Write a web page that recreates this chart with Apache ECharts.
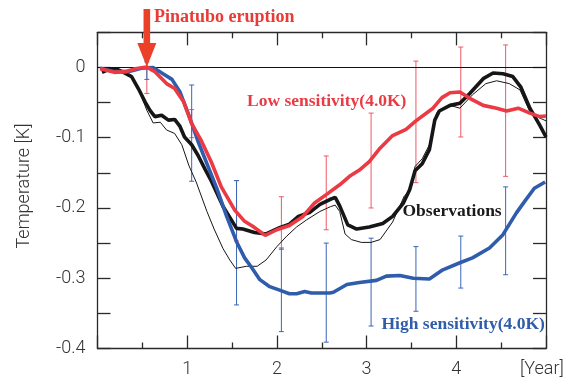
<!DOCTYPE html>
<html><head><meta charset="utf-8">
<script src="https://cdn.jsdelivr.net/npm/echarts@6/dist/echarts.min.js"></script>
<style>html,body{margin:0;padding:0;background:#fff}#c{width:575px;height:383px}</style>
</head><body><div id="c"></div>
<script>
// ---- data ----
const lowSens = [[0.03,-0.002],[0.1,-0.004],[0.19,-0.007],[0.31,-0.006],[0.42,-0.002],[0.55,0.0005],[0.64,-0.006],[0.77,-0.023],[0.86,-0.03],[0.96,-0.049],[1.05,-0.08],[1.16,-0.105],[1.27,-0.135],[1.38,-0.17],[1.53,-0.203],[1.64,-0.219],[1.73,-0.226],[1.87,-0.239],[2.0,-0.231],[2.14,-0.225],[2.29,-0.212],[2.42,-0.193],[2.55,-0.181],[2.7,-0.167],[2.81,-0.155],[2.92,-0.146],[3.03,-0.134],[3.15,-0.115],[3.29,-0.097],[3.44,-0.088],[3.55,-0.076],[3.74,-0.058],[3.84,-0.043],[3.93,-0.036],[4.04,-0.035],[4.15,-0.044],[4.3,-0.054],[4.45,-0.058],[4.56,-0.062],[4.69,-0.058],[4.82,-0.065],[4.93,-0.07],[5.0,-0.069]];
const highSens = [[0.03,-0.001],[0.19,-0.006],[0.34,-0.006],[0.49,-0.001],[0.62,0.0],[0.73,-0.009],[0.83,-0.017],[0.92,-0.035],[1.01,-0.065],[1.12,-0.105],[1.23,-0.14],[1.33,-0.172],[1.44,-0.212],[1.55,-0.248],[1.64,-0.271],[1.72,-0.285],[1.81,-0.302],[1.92,-0.312],[2.03,-0.317],[2.14,-0.322],[2.22,-0.322],[2.31,-0.319],[2.385,-0.321],[2.59,-0.321],[2.63,-0.32],[2.78,-0.309],[2.92,-0.306],[3.11,-0.303],[3.22,-0.297],[3.37,-0.296],[3.52,-0.3],[3.7,-0.301],[3.85,-0.288],[4.04,-0.278],[4.18,-0.271],[4.37,-0.257],[4.52,-0.238],[4.67,-0.207],[4.76,-0.191],[4.87,-0.172],[4.99,-0.163]];
const observations = [[0.05,-0.007],[0.14,-0.002],[0.21,-0.002],[0.29,-0.007],[0.38,-0.013],[0.455,-0.03],[0.53,-0.049],[0.585,-0.061],[0.64,-0.07],[0.715,-0.068],[0.79,-0.075],[0.86,-0.074],[0.92,-0.084],[0.97,-0.099],[1.05,-0.11],[1.12,-0.125],[1.2,-0.145],[1.27,-0.162],[1.4,-0.198],[1.55,-0.229],[1.62,-0.23],[1.75,-0.235],[1.88,-0.237],[2.03,-0.228],[2.14,-0.223],[2.24,-0.212],[2.37,-0.206],[2.48,-0.195],[2.59,-0.188],[2.65,-0.185],[2.7,-0.197],[2.79,-0.224],[2.89,-0.23],[3.03,-0.227],[3.18,-0.222],[3.29,-0.212],[3.41,-0.193],[3.48,-0.174],[3.54,-0.147],[3.62,-0.137],[3.7,-0.117],[3.76,-0.075],[3.81,-0.062],[3.93,-0.054],[4.04,-0.051],[4.15,-0.037],[4.3,-0.016],[4.41,-0.008],[4.52,-0.009],[4.63,-0.013],[4.72,-0.028],[4.82,-0.058],[4.93,-0.082],[5.0,-0.099]];
const observationsAlt = [[0.05,-0.007],[0.14,-0.002],[0.21,-0.002],[0.29,-0.007],[0.38,-0.013],[0.455,-0.03],[0.55,-0.061],[0.62,-0.079],[0.7,-0.078],[0.77,-0.089],[0.86,-0.094],[0.94,-0.11],[1.02,-0.14],[1.1,-0.163],[1.22,-0.205],[1.3,-0.23],[1.4,-0.258],[1.475,-0.274],[1.54,-0.286],[1.66,-0.283],[1.78,-0.283],[1.88,-0.274],[2.0,-0.255],[2.11,-0.24],[2.22,-0.227],[2.33,-0.217],[2.48,-0.205],[2.6,-0.198],[2.65,-0.196],[2.7,-0.205],[2.76,-0.237],[2.83,-0.245],[2.94,-0.249],[3.05,-0.249],[3.15,-0.245],[3.29,-0.22],[3.42,-0.183],[3.48,-0.176],[3.54,-0.141],[3.62,-0.13],[3.7,-0.11],[3.78,-0.065],[3.81,-0.061],[3.93,-0.054],[4.04,-0.058],[4.18,-0.039],[4.33,-0.023],[4.45,-0.019],[4.59,-0.023],[4.71,-0.032],[4.82,-0.063],[4.93,-0.072],[5.0,-0.076]];
const errX = [0.55,1.05,1.55,2.05,2.55,3.05,3.55,4.05,4.55];
const lowErrLo  = [-0.037,-0.1,-0.247,-0.259,-0.231,-0.2,-0.164,-0.099,-0.155];
const lowErrHi  = [0.0,-0.06,-0.161,-0.184,-0.126,-0.065,0.009,0.029,0.032];
const highErrLo = [-0.017,-0.162,-0.338,-0.376,-0.391,-0.368,-0.347,-0.314,-0.295];
const highErrHi = [0.008,-0.025,-0.161,-0.257,-0.25,-0.243,-0.255,-0.24,-0.17];
const xTickLabels = [1,2,3,4];
const yTickLabels = [0,-0.1,-0.2,-0.3,-0.4];
const eruptionYear = 0.55;

// ---- chart ----
const RED='#ec3a44', BLUE='#2f5cab', BLACK='#161616', REDBAR='#ee5a66', BLUEBAR='#3a66b8';
const SANS="Roboto, 'Liberation Sans', sans-serif";
const SERIF="'Liberation Serif','DejaVu Serif',serif";
const chart = echarts.init(document.getElementById('c'), null, {renderer:'canvas'});
function errRender(color){
  return function(params, api){
    const x=api.value(0), lo=api.value(1), hi=api.value(2);
    const p1=api.coord([x,hi]), p2=api.coord([x,lo]); const w=2.5;
    const st={stroke:color,lineWidth:1};
    return {type:'group',children:[
      {type:'line',shape:{x1:p1[0],y1:p1[1],x2:p2[0],y2:p2[1]},style:st},
      {type:'line',shape:{x1:p1[0]-w,y1:p1[1],x2:p1[0]+w,y2:p1[1]},style:st},
      {type:'line',shape:{x1:p2[0]-w,y1:p2[1],x2:p2[0]+w,y2:p2[1]},style:st}
    ]};
  };
}
const axisLine={show:true,onZero:false,lineStyle:{color:'#2a2a2a',width:1.3}};
const xBase={type:'value',min:0,max:5,interval:1,splitLine:{show:false},axisLine:axisLine,
  axisTick:{show:true,inside:true,length:13,lineStyle:{color:'#2a2a2a',width:1.3}},
  minorTick:{show:true,splitNumber:2,length:6,lineStyle:{color:'#2a2a2a',width:1.3}}};
const yBase={type:'value',min:-0.4,max:0.05,interval:0.05,splitLine:{show:false},axisLine:axisLine,
  axisTick:{show:true,inside:true,length:13,lineStyle:{color:'#2a2a2a',width:1.3}}};
const option={
  animation:false,
  grid:{left:97.5,right:29,top:32.3,bottom:34.5,containLabel:false},
  xAxis:[
    Object.assign({},xBase,{position:'bottom',axisLabel:{show:true,margin:12,fontSize:18,fontFamily:SANS,fontWeight:300,color:'#333',
      formatter:v=>xTickLabels.indexOf(Math.round(v*100)/100)>=0?String(v):''}}),
    Object.assign({},xBase,{position:'top',axisLabel:{show:false}})
  ],
  yAxis:[
    Object.assign({},yBase,{position:'left',axisLabel:{show:true,margin:12,fontSize:18,fontFamily:SANS,fontWeight:300,color:'#333',
      formatter:v=>{const r=Math.round(v*100)/100; return yTickLabels.indexOf(r)>=0?(r===0?'0':r.toFixed(1)):'';}}}),
    Object.assign({},yBase,{position:'right',axisLabel:{show:false}})
  ],
  series:[
    {type:'custom',name:'lowErr',renderItem:errRender(REDBAR),data:errX.map((x,i)=>[x,lowErrLo[i],lowErrHi[i]]),encode:{x:0,y:[1,2]},z:2,
      markLine:{silent:true,symbol:'none',label:{show:false},lineStyle:{color:'#111',width:1.2,type:'solid'},data:[{yAxis:0}]}},
    {type:'custom',name:'highErr',renderItem:errRender(BLUEBAR),data:errX.map((x,i)=>[x,highErrLo[i],highErrHi[i]]),encode:{x:0,y:[1,2]},z:2},
    {type:'line',name:'obsAlt',data:observationsAlt,showSymbol:false,symbol:'none',lineStyle:{color:BLACK,width:1},z:3},
    {type:'line',name:'obs',data:observations,showSymbol:false,symbol:'none',lineStyle:{color:BLACK,width:3.6},z:4},
    {type:'line',name:'high',data:highSens,showSymbol:false,symbol:'none',lineStyle:{color:BLUE,width:3.6},z:5},
    {type:'line',name:'low',data:lowSens,showSymbol:false,symbol:'none',lineStyle:{color:RED,width:3.6},z:6}
  ]
};
chart.setOption(option);
const tip = chart.convertToPixel({xAxisIndex:0,yAxisIndex:0},[eruptionYear,0]);
const ax=tip[0], ay=tip[1]-0.5;
chart.setOption({graphic:[
  {type:'polygon',z:100,shape:{points:[[ax-3.3,ay-58],[ax+3.3,ay-58],[ax+3.3,ay-24],[ax+9.5,ay-24],[ax,ay],[ax-9.5,ay-24],[ax-3.3,ay-24]]},style:{fill:'#ea4128'}},
  {type:'text',z:100,x:154,y:17,style:{text:'Pinatubo eruption',fill:'#ea3a36',font:"bold 18px "+SERIF,textAlign:'left',textVerticalAlign:'middle'}},
  {type:'text',z:100,x:247,y:101,style:{text:'Low sensitivity(4.0K)',fill:'#ea3a44',font:"bold 17.5px "+SERIF,textAlign:'left',textVerticalAlign:'middle'}},
  {type:'text',z:100,x:402.5,y:211,style:{text:'Observations',fill:'#1a1a1a',font:"bold 17.5px "+SERIF,textAlign:'left',textVerticalAlign:'middle'}},
  {type:'text',z:100,x:381.5,y:324,style:{text:'High sensitivity(4.0K)',fill:'#2f5cab',font:"bold 17.5px "+SERIF,textAlign:'left',textVerticalAlign:'middle'}},
  {type:'text',z:100,x:520,y:369,style:{text:'[Year]',fill:'#333',font:"300 18px "+SANS,textAlign:'left',textVerticalAlign:'middle'}},
  {type:'text',z:100,x:24,y:186,rotation:Math.PI/2,style:{text:'Temperature [K]',fill:'#333',font:"300 18px "+SANS,textAlign:'center',textVerticalAlign:'middle'}}
]});
</script></body></html>
